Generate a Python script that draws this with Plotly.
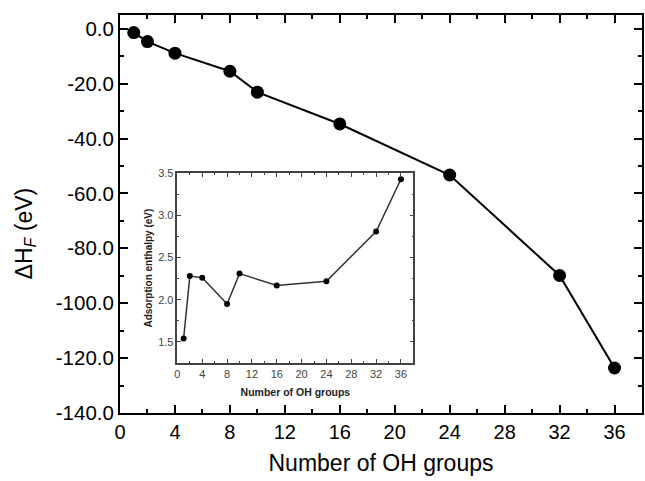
import plotly.graph_objects as go

# Main series
n_oh = [1, 2, 4, 8, 10, 16, 24, 32, 36]
delta_h = [-1.4, -4.7, -8.9, -15.5, -23.1, -34.7, -53.3, -89.9, -123.6]

# Inset series
ads_enthalpy = [1.54, 2.28, 2.26, 1.95, 2.31, 2.17, 2.22, 2.81, 3.43]

x_ticks = [0, 4, 8, 12, 16, 20, 24, 28, 32, 36]
y_ticks = [0, -20, -40, -60, -80, -100, -120, -140]
y_ticktext = ["0.0", "-20.0", "-40.0", "-60.0", "-80.0", "-100.0", "-120.0", "-140.0"]
inset_y_ticks = [1.5, 2.0, 2.5, 3.0, 3.5]
inset_y_ticktext = ["1.5", "2.0", "2.5", "3.0", "3.5"]

FONT = "Liberation Sans, Arial, sans-serif"

fig = go.Figure()
fig.add_trace(go.Scatter(
    x=n_oh, y=delta_h, mode="lines+markers",
    line=dict(color="black", width=2),
    marker=dict(color="black", size=13),
    xaxis="x", yaxis="y", showlegend=False,
))
fig.add_trace(go.Scatter(
    x=n_oh, y=ads_enthalpy, mode="lines+markers",
    line=dict(color="#333333", width=1.5),
    marker=dict(color="black", size=6),
    xaxis="x2", yaxis="y2", showlegend=False,
))

fig.update_layout(
    width=645, height=481,
    margin=dict(l=120, r=1, t=15, b=68),
    paper_bgcolor="white", plot_bgcolor="white",
    font=dict(family=FONT, color="black"),
    xaxis=dict(
        domain=[0, 1], range=[0, 38], showgrid=False, zeroline=False,
        showline=True, linecolor="black", linewidth=2, mirror="ticks",
        ticks="inside", ticklen=8, tickwidth=2, tickcolor="black",
        tickvals=x_ticks, tickfont=dict(size=20, family=FONT),
        minor=dict(ticks="inside", ticklen=4, tickwidth=2, tickcolor="black", dtick=2, tick0=0),
        title=dict(text="Number of OH groups", font=dict(size=23, family=FONT), standoff=13),
    ),
    yaxis=dict(
        domain=[0, 1], range=[-140, 5], showgrid=False, zeroline=False,
        showline=True, linecolor="black", linewidth=2, mirror="ticks",
        ticks="inside", ticklen=8, tickwidth=2, tickcolor="black",
        tickvals=y_ticks, ticktext=y_ticktext, tickfont=dict(size=20.5, family=FONT),
        minor=dict(ticks="inside", ticklen=4, tickwidth=2, tickcolor="black", dtick=10, tick0=0),
    ),
    xaxis2=dict(
        domain=[0.11, 0.562], range=[0, 38], anchor="y2", showgrid=False, zeroline=False,
        showline=True, linecolor="#444444", linewidth=1.5, mirror="ticks",
        ticks="inside", ticklen=4, tickwidth=1.2, tickcolor="#444444",
        tickvals=x_ticks, tickfont=dict(size=11, family=FONT, color="#444444"),
        minor=dict(ticks="inside", ticklen=2, tickwidth=1.2, tickcolor="#444444", dtick=2, tick0=0),
        title=dict(text="<b>Number of OH groups</b>", font=dict(size=10.5, family=FONT, color="#222222"), standoff=10),
    ),
    yaxis2=dict(
        domain=[0.126, 0.602], range=[1.25, 3.5], anchor="x2", showgrid=False, zeroline=False,
        showline=True, linecolor="#444444", linewidth=1.5, mirror="ticks",
        ticks="inside", ticklen=4, tickwidth=1.2, tickcolor="#444444",
        tickvals=inset_y_ticks, ticktext=inset_y_ticktext,
        tickfont=dict(size=11, family=FONT, color="#444444"),
        minor=dict(ticks="inside", ticklen=2, tickwidth=1.2, tickcolor="#444444", dtick=0.25, tick0=1.5),
        title=dict(text="<b>Adsorption enthalpy (eV)</b>", font=dict(size=10, family=FONT, color="#222222"), standoff=4),
    ),
    annotations=[dict(
        text="ΔH<sub><i>F</i></sub> (eV)", textangle=-90,
        xref="paper", yref="paper", x=-0.181, y=0.45,
        xanchor="center", yanchor="middle", showarrow=False,
        font=dict(size=23, family=FONT, color="black"),
    )],
)

fig.write_html("out.html")
